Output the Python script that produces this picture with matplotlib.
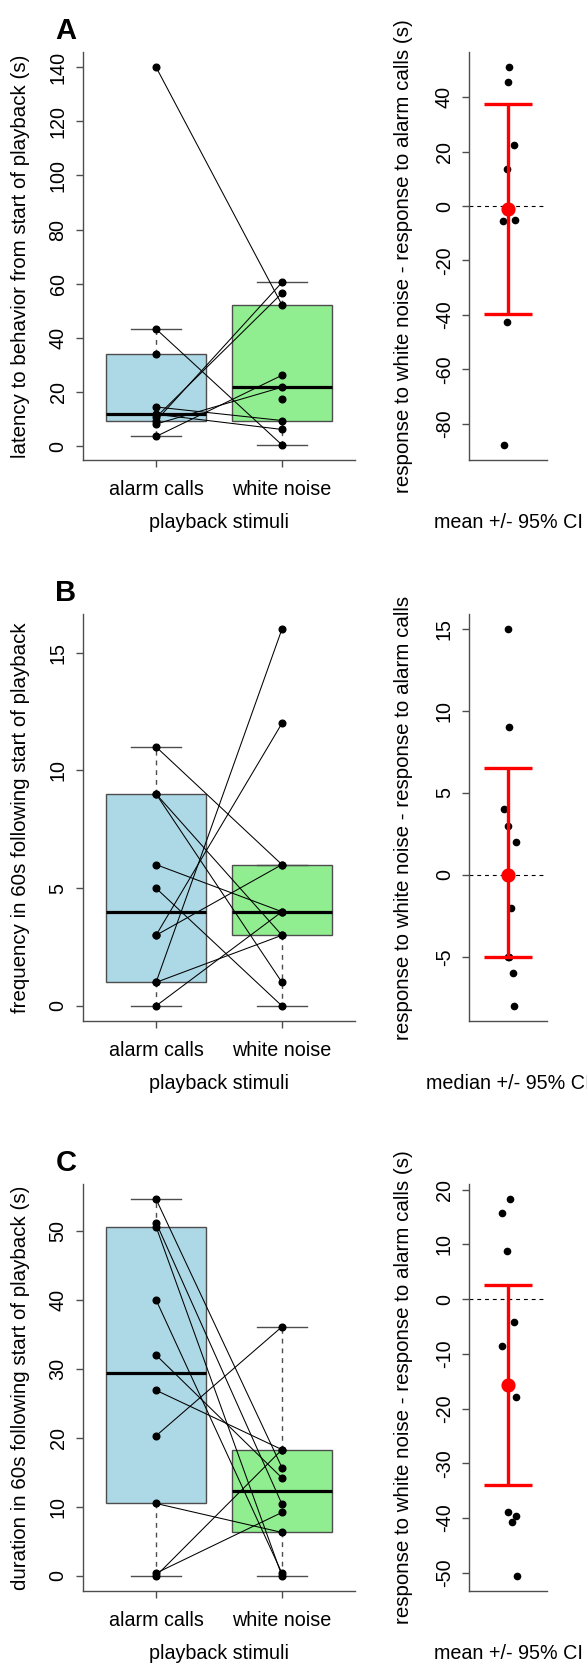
import numpy as np
import matplotlib.pyplot as plt

plt.rcParams['font.family'] = ['Liberation Sans', 'DejaVu Sans']
plt.rcParams['font.size'] = 14
plt.rcParams['axes.unicode_minus'] = False

groups = ['alarm calls', 'white noise']
fills = ['#ADD8E6', '#90EE90']

# paired trials per individual; nan = no response recorded for that stimulus
latency_alarm = [140.0, 43.3, 14.5, 11.8, 9.4, 10.7, 3.6, 8.2, 34.0, np.nan]
latency_noise = [52.2, 0.5, 9.5, 6.2, 60.5, 56.5, 26.2, 21.8, np.nan, 17.6]

freq_alarm = [11, 9, 9, 6, 5, 3, 3, 1, 1, 0]
freq_noise = [6, 3, 1, 4, 0, 12, 6, 16, 3, 4]

dur_alarm = [54.6, 51.2, 50.6, 40.0, 32.0, 26.9, 20.3, 10.5, 0.0, 0.4]
dur_noise = [15.7, 10.4, 0.0, 0.4, 14.2, 18.3, 36.1, 6.3, 18.3, 9.2]

# 95% CI of the median difference in frequency
freq_median_ci = [-5.0, 6.5]

# horizontal jitter for the difference points
jit_latency = [-0.056, -0.01, 0.087, -0.07, 0.01, 0.004, 0.074, -0.01]
jit_freq = [0.009, 0.067, 0.076, 0.044, 0.0, 0.009, 0.0, 0.0, 0.102, -0.053]
jit_dur = [0.0, 0.051, 0.121, 0.107, 0.103, -0.075, -0.075, 0.079, 0.023, -0.009]

t975 = {7: 2.3646, 9: 2.2622}

EDGE = '#4d4d4d'
TICK_FS = 14.2
LAB_FS = 14.8
W, H = 587, 1667
fig = plt.figure(figsize=(W / 100, H / 100), dpi=100)


def px_axes(left, top, width, height):
    return fig.add_axes([left / W, 1 - (top + height) / H, width / W, height / H])


def fivenum(x):
    x = np.sort(x)
    n = len(x)
    n4 = np.floor((n + 3) / 2) / 2
    d = np.array([1, n4, (n + 1) / 2, n + 1 - n4, n]) - 1
    return 0.5 * (x[np.floor(d).astype(int)] + x[np.ceil(d).astype(int)])


def box_stats(x):
    x = x[~np.isnan(x)]
    lo, q1, med, q3, hi = fivenum(x)
    reach = 1.5 * (q3 - q1)
    inside = x[(x >= q1 - reach) & (x <= q3 + reach)]
    return dict(med=med, q1=q1, q3=q3, whislo=inside.min(), whishi=inside.max(), fliers=[])


def padded(v):
    v = v[~np.isnan(v)]
    d = 0.04 * (v.max() - v.min())
    return v.min() - d, v.max() + d


def style_axes(ax, step):
    for s in ['top', 'right']:
        ax.spines[s].set_visible(False)
    for s in ['left', 'bottom']:
        ax.spines[s].set_color(EDGE)
        ax.spines[s].set_linewidth(1.0)
    ax.yaxis.set_major_locator(plt.MultipleLocator(step))
    ax.tick_params(axis='y', length=5, width=1, color=EDGE, pad=9, labelsize=TICK_FS)
    for lab in ax.get_yticklabels():
        lab.set_rotation(90)
        lab.set_rotation_mode('anchor')
        lab.set_ha('center')
        lab.set_va('baseline')


def label(ax, text, ylabel_off, ylabel):
    ax.annotate(text, xy=(0.5, 0), xycoords='axes fraction', xytext=(0, -68),
                textcoords='offset pixels', ha='center', va='baseline', fontsize=TICK_FS)
    ax.annotate(ylabel, xy=(0, 0.5), xycoords='axes fraction', xytext=(-ylabel_off, 0),
                textcoords='offset pixels', ha='center', va='baseline', rotation=90,
                rotation_mode='anchor', fontsize=LAB_FS)


def paired_panel(ax, alarm, noise, ylabel, step, letter):
    alarm = np.asarray(alarm, float)
    noise = np.asarray(noise, float)
    art = ax.bxp([box_stats(alarm), box_stats(noise)], positions=[1, 2], widths=0.8,
                 capwidths=0.4, patch_artist=True, showfliers=False, manage_ticks=False,
                 boxprops=dict(edgecolor=EDGE, linewidth=1.0),
                 whiskerprops=dict(color=EDGE, linewidth=1.0, linestyle=(0, (3.5, 3.5))),
                 capprops=dict(color=EDGE, linewidth=1.0),
                 medianprops=dict(color='black', linewidth=2.3, solid_capstyle='butt'))
    for patch, c in zip(art['boxes'], fills):
        patch.set_facecolor(c)
    both = ~np.isnan(alarm) & ~np.isnan(noise)
    for a, b in zip(alarm[both], noise[both]):
        ax.plot([1, 2], [a, b], color='black', lw=0.75, zorder=3)
    ax.plot(np.full(len(alarm), 1), alarm, 'o', color='black', ms=4.8, zorder=4)
    ax.plot(np.full(len(noise), 2), noise, 'o', color='black', ms=4.8, zorder=4)
    ax.set_xlim(0.42, 2.58)
    ax.set_ylim(padded(np.concatenate([alarm, noise])))
    style_axes(ax, step)
    ax.set_xticks([1, 2])
    ax.set_xticklabels(groups)
    ax.tick_params(axis='x', length=5, width=1, color=EDGE, pad=20, labelsize=TICK_FS)
    for lab in ax.get_xticklabels():
        lab.set_va('baseline')
    label(ax, 'playback stimuli', 57, ylabel)
    ax.annotate(letter, xy=(0, 1), xycoords='axes fraction', xytext=(-17, 13),
                textcoords='offset pixels', ha='center', va='baseline',
                fontsize=21, fontweight='bold')


def diff_panel(ax, alarm, noise, jit, ylabel, xlabel, step, use_median=False, ci=None):
    alarm = np.asarray(alarm, float)
    noise = np.asarray(noise, float)
    d = noise - alarm
    d = d[~np.isnan(d)]
    if use_median:
        centre = np.median(d)
        lo, hi = ci
    else:
        centre = d.mean()
        half = t975[len(d) - 1] * d.std(ddof=1) / np.sqrt(len(d))
        lo, hi = centre - half, centre + half
    ax.axhline(0, color='black', lw=0.8, ls=(0, (3.5, 3.5)), zorder=1)
    ax.plot(1 + np.asarray(jit), d, 'o', color='black', ms=4.5, zorder=3)
    ax.plot([1, 1], [lo, hi], color='red', lw=2.4, solid_capstyle='butt', zorder=4)
    for y in (lo, hi):
        ax.plot([0.69, 1.31], [y, y], color='red', lw=2.4, solid_capstyle='butt', zorder=4)
    ax.plot([1], [centre], 'o', color='red', ms=9.2, zorder=5)
    ax.set_xlim(0.5, 1.5)
    ax.set_ylim(padded(d))
    style_axes(ax, step)
    ax.set_xticks([])
    label(ax, xlabel, 60, ylabel)


tops = [52, 614, 1184]
lat_box = px_axes(83, tops[0], 272, 408)
lat_diff = px_axes(469.3, tops[0], 77.4, 408)
freq_box = px_axes(83, tops[1], 272, 407)
freq_diff = px_axes(469.3, tops[1], 77.4, 407)
dur_box = px_axes(83, tops[2], 272, 407)
dur_diff = px_axes(469.3, tops[2], 77.4, 407)

paired_panel(lat_box, latency_alarm, latency_noise,
             'latency to behavior from start of playback (s)', 20, 'A')
diff_panel(lat_diff, latency_alarm, latency_noise, jit_latency,
           'response to white noise - response to alarm calls (s)', 'mean +/- 95% CI', 20)

paired_panel(freq_box, freq_alarm, freq_noise,
             'frequency in 60s following start of playback', 5, 'B')
diff_panel(freq_diff, freq_alarm, freq_noise, jit_freq,
           'response to white noise - response to alarm calls', 'median +/- 95% CI', 5,
           use_median=True, ci=freq_median_ci)

paired_panel(dur_box, dur_alarm, dur_noise,
             'duration in 60s following start of playback (s)', 10, 'C')
diff_panel(dur_diff, dur_alarm, dur_noise, jit_dur,
           'response to white noise - response to alarm calls (s)', 'mean +/- 95% CI', 10)

fig.savefig('out.png', dpi=100)
